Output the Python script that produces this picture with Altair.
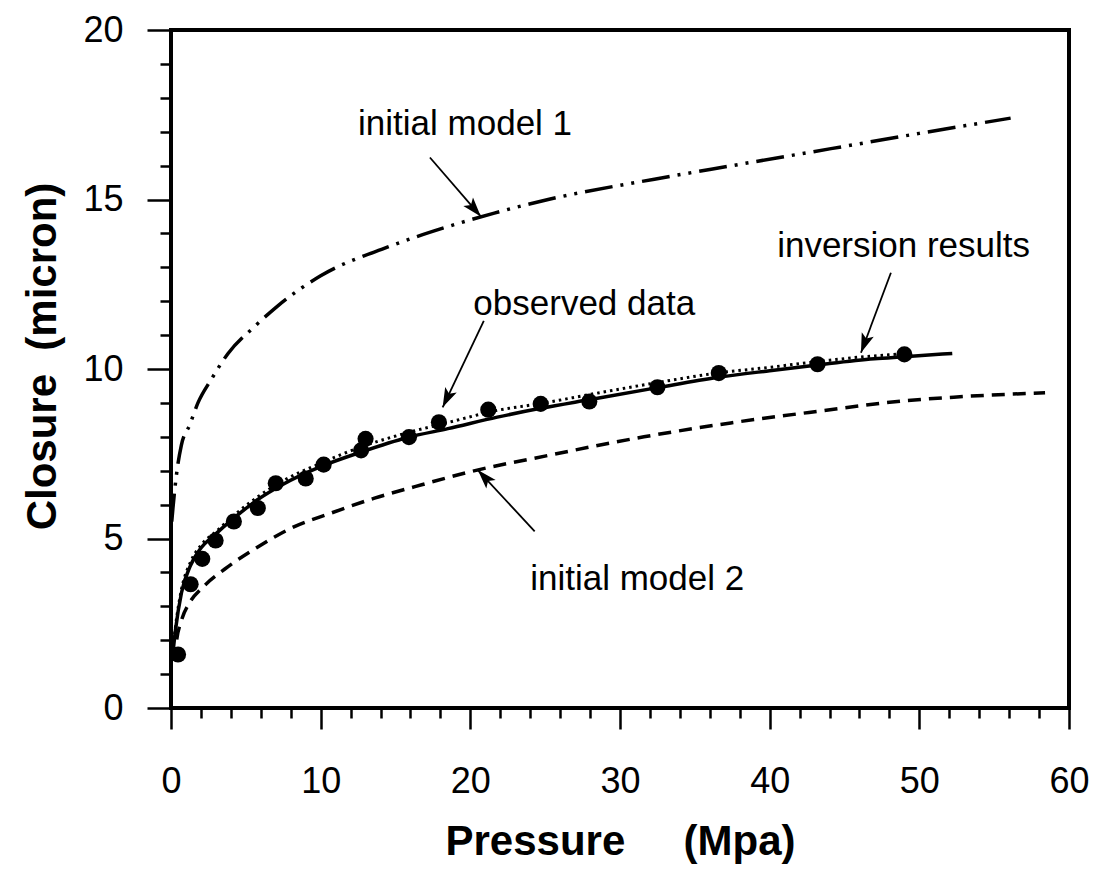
import math
import altair as alt
import pandas as pd

# ---------------- data ----------------
X_DOMAIN = [0, 60]
Y_DOMAIN = [0, 20]
x_ticks = list(range(0, 61, 2))
y_ticks = list(range(0, 21, 1))

# observed data (filled circles)
obs_p = [0.47, 1.31, 2.09, 2.98, 4.2, 5.8, 7.0, 9.0, 10.2, 12.7, 13.0, 15.9, 17.9,
         21.2, 24.7, 27.95, 32.5, 36.6, 43.2, 49.0]
obs_c = [1.58, 3.65, 4.40, 4.94, 5.5, 5.9, 6.63, 6.77, 7.18, 7.6, 7.94, 7.99, 8.43,
         8.80, 8.97, 9.04, 9.46, 9.88, 10.14, 10.43]

# solid curve through the observed data
solid_p = [0.1, 0.3, 0.7, 1.3, 2.0, 2.9, 4.2, 5.8, 7.4, 10.0, 12.7, 15.8, 18.5, 21.8,
           24.7, 28.0, 32.5, 36.5, 40.0, 43.2, 47.0, 49.0, 52.2]
solid_c = [1.5, 2.3, 3.4, 4.2, 4.72, 5.1, 5.6, 6.15, 6.58, 7.12, 7.55, 7.98, 8.24, 8.58,
           8.84, 9.1, 9.45, 9.75, 9.95, 10.12, 10.3, 10.36, 10.46]

# dotted curve: inversion results
inv_p = [0.1, 0.3, 0.7, 1.3, 2.0, 3.0, 4.2, 5.8, 7.4, 10.0, 12.7, 15.8, 18.5, 21.8,
         24.7, 28.0, 32.5, 36.5, 40.0, 43.2, 46.0, 49.0]
inv_c = [1.6, 2.4, 3.5, 4.3, 4.8, 5.2, 5.68, 6.23, 6.68, 7.22, 7.7, 8.12, 8.42, 8.78,
         8.98, 9.25, 9.6, 9.88, 10.05, 10.22, 10.35, 10.45]

# initial model 1 (dash-dot-dot)
m1_p = [0.05, 0.13, 0.4, 0.69, 1.25, 1.8, 2.7, 3.8, 5.6, 7.1, 10.0, 14.5, 18.5, 21.6,
        25.2, 32.3, 37.5, 44.1, 50.0, 56.1]
m1_c = [5.5, 5.9, 7.0, 7.75, 8.35, 9.0, 9.7, 10.45, 11.26, 11.85, 12.75, 13.6, 14.2,
        14.6, 15.0, 15.6, 16.0, 16.5, 16.95, 17.4]

# initial model 2 (dashed)
m2_p = [0.3, 0.35, 0.7, 1.25, 2.1, 3.6, 5.8, 8.0, 10.7, 13.6, 16.3, 20.0, 25.2, 31.6,
        37.4, 43.2, 49.2, 52.3, 58.4]
m2_c = [1.4, 1.9, 2.58, 3.11, 3.55, 4.1, 4.75, 5.3, 5.75, 6.19, 6.53, 6.97, 7.45, 8.0,
        8.41, 8.75, 9.07, 9.17, 9.3]

# annotations
ann_text = ["initial model 1", "observed data", "inversion results", "initial model 2"]
ann_x = [12.5, 20.2, 40.5, 24.0]
ann_y = [16.9, 11.6, 13.3, 3.48]
arr_x0 = [17.3, 20.9, 48.1, 24.3]
arr_y0 = [16.24, 11.42, 12.84, 5.21]
arr_x1 = [20.7, 18.15, 46.1, 20.5]
arr_y1 = [14.5, 8.87, 10.48, 7.02]

# ---------------- layout ----------------
W, H = 898, 678
FONT = "Liberation Sans"
TICK_FS = 36

xs = alt.Scale(domain=X_DOMAIN, nice=False, zero=False)
ys = alt.Scale(domain=Y_DOMAIN, nice=False, zero=False)

x_axis = alt.Axis(
    values=x_ticks, labelExpr="datum.value % 10 === 0 ? datum.label : ''",
    tickSize={"condition": {"test": "datum.value % 10 === 0", "value": 21}, "value": 10},
    tickWidth=2.5, tickColor="black", domain=False, grid=False,
    labelFont=FONT, labelFontSize=TICK_FS, labelColor="black", labelPadding=35,
    labelFlush=False, labelOverlap=False, labelBound=False,
    title="Pressure\u00a0\u00a0\u00a0\u00a0\u00a0(Mpa)", titleFont=FONT, titleFontSize=42,
    titleFontWeight="bold", titleColor="black", titleBaseline="alphabetic", titleY=146,
)
y_axis = alt.Axis(
    values=y_ticks, labelExpr="datum.value % 5 === 0 ? datum.label : ''",
    tickSize={"condition": {"test": "datum.value % 5 === 0", "value": 24}, "value": 11},
    tickWidth=2.5, tickColor="black", domain=False, grid=False,
    labelFont=FONT, labelFontSize=TICK_FS, labelColor="black", labelPadding=24,
    labelFlush=False, labelOverlap=False, labelBound=False,
    title="Closure\u00a0\u00a0(micron)", titleFont=FONT, titleFontSize=42,
    titleFontWeight="bold", titleColor="black", titleBaseline="alphabetic",
    titleX=-116, titleY=326, titleAngle=270,
)

def X(field):
    return alt.X(field, scale=xs, axis=x_axis)

def Y(field):
    return alt.Y(field, scale=ys, axis=y_axis)

def line_df(p, c):
    return pd.DataFrame({"p": p, "c": c})

solid = alt.Chart(line_df(solid_p, solid_c)).mark_line(
    color="black", strokeWidth=3.5, interpolate="monotone"
).encode(x=X("p:Q"), y=Y("c:Q"))

inv = alt.Chart(line_df(inv_p, inv_c)).mark_line(
    color="black", strokeWidth=3, strokeDash=[2.5, 4], interpolate="monotone"
).encode(x=X("p:Q"), y=Y("c:Q"))

m1 = alt.Chart(line_df(m1_p, m1_c)).mark_line(
    color="black", strokeWidth=3.5, strokeDash=[28, 8, 3, 8, 3, 8], interpolate="monotone"
).encode(x=X("p:Q"), y=Y("c:Q"))

m2 = alt.Chart(line_df(m2_p, m2_c)).mark_line(
    color="black", strokeWidth=3.5, strokeDash=[13, 8], interpolate="monotone"
).encode(x=X("p:Q"), y=Y("c:Q"))

obs = alt.Chart(line_df(obs_p, obs_c)).mark_circle(
    color="black", opacity=1, size=260
).encode(x=X("p:Q"), y=Y("c:Q"))

ann_df = pd.DataFrame({"t": ann_text, "p": ann_x, "c": ann_y})
labels = alt.Chart(ann_df).mark_text(
    font=FONT, fontSize=35, align="left", baseline="alphabetic", color="black"
).encode(x=X("p:Q"), y=Y("c:Q"), text="t:N")

angles = []
for a, b, c, d in zip(arr_x0, arr_y0, arr_x1, arr_y1):
    dx = (c - a) * W / (X_DOMAIN[1] - X_DOMAIN[0])
    dy_up = (d - b) * H / (Y_DOMAIN[1] - Y_DOMAIN[0])
    angles.append(math.degrees(math.atan2(dx, dy_up)) % 360)

arr_df = pd.DataFrame({"p": arr_x0, "c": arr_y0, "p1": arr_x1, "c1": arr_y1, "ang": angles})
shafts = alt.Chart(arr_df).mark_rule(color="black", strokeWidth=1.8).encode(
    x=X("p:Q"), y=Y("c:Q"), x2="p1:Q", y2="c1:Q",
)
heads = alt.Chart(arr_df).mark_point(
    shape="M0,0 L-0.33,1 L0,0.78 L0.33,1 Z", filled=True, color="black", opacity=1,
    size=1500, strokeWidth=0,
).encode(
    x=X("p1:Q"), y=Y("c1:Q"),
    angle=alt.Angle("ang:Q", scale=None),
)

chart = alt.layer(solid, inv, m1, m2, obs, shafts, heads, labels).properties(
    width=W, height=H,
    autosize=alt.AutoSizeParams(type="none"),
    padding={"left": 163, "top": 22, "right": 25, "bottom": 157},
    background="white",
).configure_view(stroke="black", strokeWidth=4)

chart.save("out.html", embed_options={"renderer": "svg", "actions": False})
